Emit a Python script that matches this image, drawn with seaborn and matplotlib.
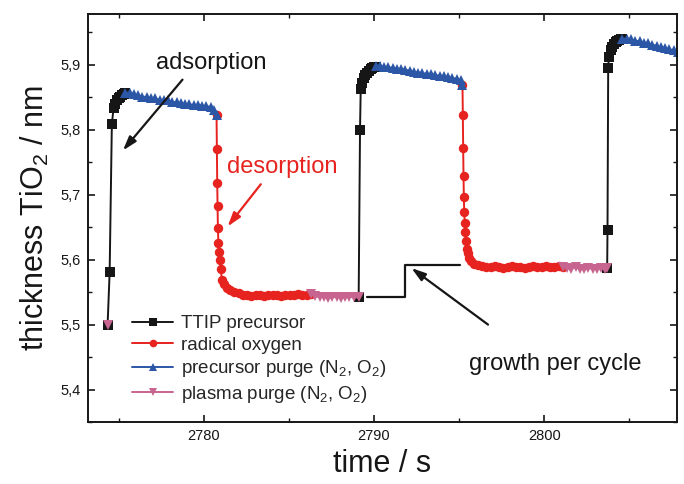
"""ALD cycle thickness trace (TTIP / radical oxygen) redrawn with seaborn."""
import matplotlib
matplotlib.use("Agg")
import matplotlib.pyplot as plt
import numpy as np
import pandas as pd
import seaborn as sns
from matplotlib.ticker import FuncFormatter, MultipleLocator

sns.set_theme(style="ticks")
plt.rcParams["font.family"] = ["Liberation Sans", "DejaVu Sans"]
plt.rcParams["mathtext.fontset"] = "custom"
plt.rcParams["mathtext.rm"] = "Liberation Sans"
plt.rcParams["mathtext.it"] = "Liberation Sans:italic"

TTIP = "TTIP precursor"
OXY = "radical oxygen"
PPURGE = "precursor purge (N$_2$, O$_2$)"
OPURGE = "plasma purge (N$_2$, O$_2$)"
PHASES = [TTIP, OXY, PPURGE, OPURGE]
COLORS = {TTIP: "#161616", OXY: "#e6231f", PPURGE: "#2c56a6", OPURGE: "#c7648f"}
MARKERS = {TTIP: "s", OXY: "o", PPURGE: "^", OPURGE: "v"}

# ----- data (time / s, thickness / nm) ------------------------------------
pp0_t = [2774.35]
pp0_v = [5.500]

ttip1_t = [2774.35, 2774.47, 2774.6, 2774.7, 2774.8, 2774.9, 2775.0,
           2775.1, 2775.2, 2775.3, 2775.4]
ttip1_v = [5.500, 5.581, 5.809, 5.833, 5.840, 5.845, 5.848,
           5.851, 5.853, 5.855, 5.857]

purge1_t = [2775.4, 2775.65, 2775.9, 2776.15, 2776.4, 2776.65, 2776.9,
            2777.15, 2777.4, 2777.65, 2777.9, 2778.15, 2778.4, 2778.65,
            2778.9, 2779.15, 2779.4, 2779.65, 2779.9, 2780.15, 2780.4,
            2780.6, 2780.75]
purge1_v = [5.857, 5.857, 5.855, 5.853, 5.851, 5.850, 5.849,
            5.848, 5.846, 5.845, 5.845, 5.843, 5.842, 5.841,
            5.840, 5.839, 5.838, 5.838, 5.837, 5.836, 5.835,
            5.831, 5.823]

oxy1_t = [2780.75, 2780.77, 2780.79, 2780.81, 2780.83, 2780.86, 2780.9,
          2780.95, 2781.0, 2781.06, 2781.2, 2781.35, 2781.55, 2781.8,
          2782.05, 2782.3, 2782.55, 2782.8, 2783.05, 2783.3, 2783.55,
          2783.8, 2784.05, 2784.3, 2784.55, 2784.8, 2785.05, 2785.3,
          2785.55, 2785.8, 2786.05, 2786.3]
oxy1_v = [5.823, 5.770, 5.718, 5.682, 5.648, 5.625, 5.612,
          5.600, 5.585, 5.569, 5.562, 5.557, 5.553, 5.550,
          5.548, 5.546, 5.545, 5.544, 5.545, 5.546, 5.544,
          5.545, 5.546, 5.545, 5.544, 5.546, 5.545, 5.546,
          5.547, 5.545, 5.546, 5.547]

pl1_t = [2786.3, 2786.55, 2786.8, 2787.05, 2787.3, 2787.55, 2787.8,
         2788.05, 2788.3, 2788.55, 2788.8, 2789.1]
pl1_v = [5.547, 5.544, 5.542, 5.543, 5.541, 5.542, 5.543,
         5.541, 5.542, 5.543, 5.542, 5.542]

ttip2_t = [2789.1, 2789.18, 2789.22, 2789.3, 2789.4, 2789.5, 2789.6,
           2789.7, 2789.8, 2789.9, 2790.0, 2790.1]
ttip2_v = [5.542, 5.800, 5.862, 5.872, 5.879, 5.884, 5.888,
           5.891, 5.893, 5.895, 5.896, 5.897]

purge2_t = [2790.1, 2790.35, 2790.6, 2790.85, 2791.1, 2791.35, 2791.6,
            2791.85, 2792.1, 2792.35, 2792.6, 2792.85, 2793.1, 2793.35,
            2793.6, 2793.85, 2794.1, 2794.35, 2794.6, 2794.85, 2795.1,
            2795.2]
purge2_v = [5.898, 5.898, 5.897, 5.896, 5.895, 5.894, 5.893,
            5.892, 5.891, 5.889, 5.888, 5.887, 5.886, 5.885,
            5.884, 5.883, 5.882, 5.881, 5.880, 5.878, 5.876,
            5.869]

oxy2_t = [2795.2, 2795.22, 2795.24, 2795.26, 2795.28, 2795.3, 2795.33,
          2795.36, 2795.4, 2795.45, 2795.5, 2795.6, 2795.72, 2795.9,
          2796.1, 2796.35, 2796.6, 2796.85, 2797.1, 2797.35, 2797.6,
          2797.85, 2798.1, 2798.35, 2798.6, 2798.85, 2799.1, 2799.35,
          2799.6, 2799.85, 2800.1, 2800.35, 2800.6, 2800.85, 2801.1]
oxy2_v = [5.869, 5.823, 5.772, 5.728, 5.697, 5.674, 5.657,
          5.642, 5.628, 5.617, 5.610, 5.603, 5.598, 5.594,
          5.592, 5.590, 5.589, 5.588, 5.590, 5.589, 5.587,
          5.589, 5.590, 5.588, 5.589, 5.587, 5.589, 5.590,
          5.588, 5.589, 5.590, 5.588, 5.589, 5.590, 5.589]

pl2_t = [2801.1, 2801.35, 2801.6, 2801.85, 2802.1, 2802.35, 2802.6,
         2802.85, 2803.1, 2803.35, 2803.6, 2803.7]
pl2_v = [5.589, 5.587, 5.586, 5.588, 5.586, 5.585, 5.587,
         5.586, 5.585, 5.587, 5.586, 5.587]

ttip3_t = [2803.7, 2803.72, 2803.76, 2803.8, 2803.9, 2804.0, 2804.1,
           2804.2, 2804.3, 2804.4, 2804.5, 2804.6]
ttip3_v = [5.587, 5.646, 5.895, 5.912, 5.922, 5.928, 5.932,
           5.935, 5.937, 5.938, 5.939, 5.940]

purge3_t = [2804.6, 2804.85, 2805.1, 2805.35, 2805.6, 2805.85, 2806.1,
            2806.35, 2806.6, 2806.85, 2807.1, 2807.35, 2807.6, 2807.85]
purge3_v = [5.940, 5.940, 5.939, 5.937, 5.936, 5.934, 5.933,
            5.931, 5.929, 5.927, 5.926, 5.924, 5.922, 5.920]

# step drawn to mark the growth per cycle
gpc_t = [2789.6, 2791.8, 2791.8, 2795.05]
gpc_v = [5.543, 5.543, 5.591, 5.591]

segments = [
    (OPURGE, pp0_t, pp0_v), (TTIP, ttip1_t, ttip1_v),
    (PPURGE, purge1_t, purge1_v), (OXY, oxy1_t, oxy1_v),
    (OPURGE, pl1_t, pl1_v), (TTIP, ttip2_t, ttip2_v),
    (PPURGE, purge2_t, purge2_v), (OXY, oxy2_t, oxy2_v),
    (OPURGE, pl2_t, pl2_v), (TTIP, ttip3_t, ttip3_v),
    (PPURGE, purge3_t, purge3_v),
]
df = pd.concat(
    [pd.DataFrame({"time": t, "thickness": v, "phase": ph, "seg": i})
     for i, (ph, t, v) in enumerate(segments)],
    ignore_index=True,
)

fig = plt.figure(figsize=(6.84, 4.84), dpi=100)
ax = fig.add_axes([0.1287, 0.128, 0.861, 0.843])

sns.lineplot(data=df, x="time", y="thickness", hue="phase", style="phase",
             units="seg", estimator=None, sort=False,
             hue_order=PHASES, style_order=PHASES, palette=COLORS,
             markers=MARKERS, dashes=False, lw=1.4, markersize=6.8,
             markeredgewidth=0, ax=ax)

ax.plot(gpc_t, gpc_v, color="#161616", lw=1.6)

# annotations
arrow = dict(arrowstyle="-|>,head_length=0.7,head_width=0.22", lw=1.6,
             shrinkA=0, shrinkB=0)
ax.text(2780.45, 5.903, "adsorption", fontsize=17, ha="center", va="center",
        color="#161616")
ax.annotate("", xy=(2775.25, 5.768), xytext=(2778.75, 5.877),
            arrowprops=dict(arrow, color="#161616"), zorder=10)
ax.text(2784.6, 5.742, "desorption", fontsize=17, ha="center", va="center",
        color=COLORS[OXY])
ax.annotate("", xy=(2781.4, 5.651), xytext=(2783.35, 5.716),
            arrowprops=dict(arrow, color=COLORS[OXY]), zorder=10)
ax.text(2800.65, 5.44, "growth per cycle", fontsize=17, ha="center",
        va="center", color="#161616")
ax.annotate("", xy=(2792.2, 5.587), xytext=(2796.7, 5.5),
            arrowprops=dict(arrow, color="#161616"), zorder=10)

# axes styling
ax.set_xlim(2773.2, 2807.8)
ax.set_ylim(5.35, 5.978)
ax.xaxis.set_major_locator(MultipleLocator(10))
ax.xaxis.set_minor_locator(MultipleLocator(5))
ax.yaxis.set_major_locator(MultipleLocator(0.1))
ax.yaxis.set_minor_locator(MultipleLocator(0.05))
ax.yaxis.set_major_formatter(FuncFormatter(lambda v, _: f"{v:.1f}".replace(".", ",")))
ax.tick_params(which="both", direction="in", top=True, right=True,
               labelsize=10.5, color="#161616", labelcolor="#161616")
ax.tick_params(which="major", length=5, width=1.2, pad=5)
ax.tick_params(which="minor", length=3, width=1.0)
for sp in ax.spines.values():
    sp.set_color("#161616")
    sp.set_linewidth(1.4)
ax.grid(False)

ax.set_xlabel("time / s", fontsize=22, labelpad=4, color="#161616")
ax.set_ylabel("thickness TiO$_2$ / nm", fontsize=22, labelpad=7,
              color="#161616")

handles, labels = ax.get_legend_handles_labels()
leg = ax.legend(handles, labels, loc="upper left", bbox_to_anchor=(0.075, 0.262),
                frameon=False, fontsize=13.5, handlelength=2.2, handletextpad=0.4,
                labelspacing=0.24, borderpad=0, borderaxespad=0)
for h in leg.legend_handles:
    h.set_markersize(5.5)
    h.set_linewidth(1.4)

fig.savefig("out.png", dpi=100)
